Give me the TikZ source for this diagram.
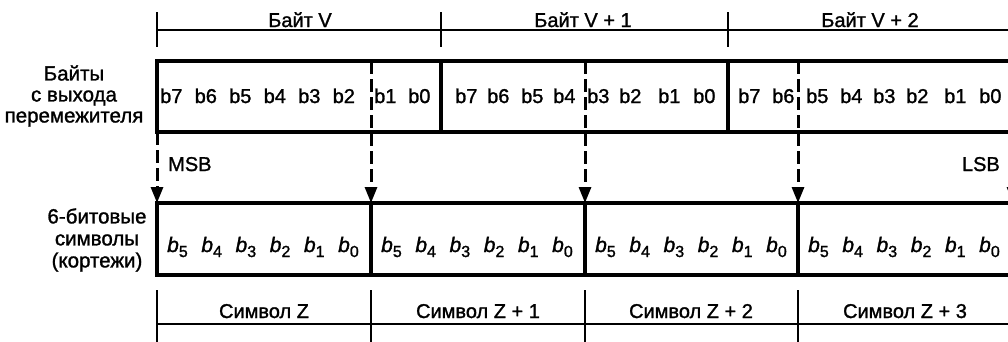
\documentclass[tikz,border=0pt]{standalone}
\usepackage{fontspec}
\setmainfont{Liberation Sans}[FakeBold=1.3]
\usetikzlibrary{arrows.meta}
\newcommand{\bsub}[1]{\textit{b}\raisebox{-0.45ex}{\fontsize{16}{16}\selectfont #1}}
\begin{document}
\begin{tikzpicture}[x=1pt,y=-1pt,
  thinline/.style={line width=1.3pt},
  boxline/.style={line width=3.2pt},
  dashline/.style={line width=3pt, dash pattern=on 13pt off 5pt},
  arr/.style={-{Triangle[length=16pt,width=12pt]}},
  lab/.style={font=\fontsize{20}{21}\selectfont, inner sep=0pt},
  bit/.style={font=\fontsize{20}{21}\selectfont, inner sep=0pt, anchor=base west},
  sbit/.style={font=\fontsize{21}{21}\selectfont, inner sep=0pt, anchor=base west}]
\useasboundingbox (0,0) rectangle (1008,341);
\clip (0,0) rectangle (1008,341);
% top bracket
\draw[thinline] (157,30) -- (1020,30);
\foreach \x in {157,441,728} \draw[thinline] (\x,12) -- (\x,47);
\node[lab,anchor=base] (bV)  at (300,27) {Байт V};
\node[lab,anchor=base] (bV1) at (583,27) {Байт V + 1};
\node[lab,anchor=base] (bV2) at (870,27) {Байт V + 2};
% byte row
\draw[boxline] (157,61) rectangle (1020,132);
\draw[boxline] (441,61) -- (441,132);
\draw[boxline] (728,61) -- (728,132);
% coordinates for arrows
\foreach \n/\x in {a/157,b/371,c/585,d/798,e/1013} {
  \coordinate (top\n) at (\x,61);
  \coordinate (mid\n) at (\x,132);
  \coordinate (sym\n) at (\x,203);
}
\draw[dashline,arr] (mida) -- (syma);
\draw[dashline,arr] (topb) -- (symb);
\draw[dashline,arr] (topc) -- (symc);
\draw[dashline,arr] (topd) -- (symd);
\draw[dashline,arr] (mide) -- (syme);
% byte bits
\foreach \x/\t [count=\i] in {160/7,194.5/6,229/5,263.5/4,298/3,332.5/2,374/1,408/0,
   455/7,487/6,521/5,553/4,587/3,619/2,658/1,693/0,
   738/7,772/6,806/5,840/4,873/3,906/2,944/1,979/0}
  \node[bit] (byte\i) at (\x,103) {b\t};
\node[lab,align=center,font=\fontsize{20.5}{21}\selectfont] (lbytes) at (74,96) {Байты\\с выхода\\перемежителя};
\node[lab,anchor=base west] (msb) at (168,171) {MSB};
\node[lab,anchor=base east] (lsb) at (1000,171) {LSB};
% symbol row
\draw[boxline] (157,203) rectangle (1020,275);
\foreach \x in {371,585,798} \draw[boxline] (\x,203) -- (\x,275);
\foreach \c [count=\j] in {157,371,585,798}
  \foreach \k/\n in {0/5,1/4,2/3,3/2,4/1,5/0}
    \node[sbit] (s\j\n) at (\c+10+34.2*\k,252) {\bsub{\n}};
\node[lab,align=center,font=\fontsize{20.5}{22}\selectfont] (lsym) at (97,240) {6-битовые\\символы\\(кортежи)};
% bottom bracket
\draw[thinline] (157,324) -- (1020,324);
\foreach \x in {157,371,585,798} \draw[thinline] (\x,290) -- (\x,345);
\node[lab,anchor=base] (sZ)  at (264,318) {Символ Z};
\node[lab,anchor=base] (sZ1) at (478,318) {Символ Z + 1};
\node[lab,anchor=base] (sZ2) at (691,318) {Символ Z + 2};
\node[lab,anchor=base] (sZ3) at (905,318) {Символ Z + 3};
\end{tikzpicture}
\end{document}
